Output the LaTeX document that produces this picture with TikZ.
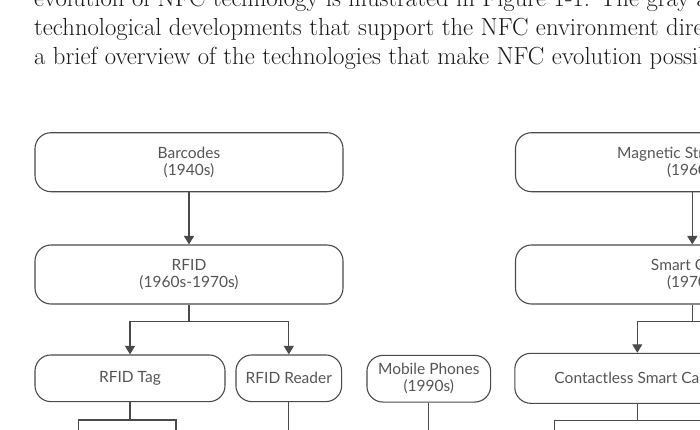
\documentclass[tikz,border=0pt]{standalone}
\usepackage{fontspec}
\usepackage{xcolor}
\usetikzlibrary{arrows.meta, positioning}
\newfontfamily\chartfont{Lato}
\definecolor{LineGray}{HTML}{4A4A4A}
\definecolor{LabelGray}{HTML}{555555}
\definecolor{BodyInk}{HTML}{1A1A1A}
\tikzset{
  >={Triangle[width=10pt,length=8.5pt]},
  % Caselle della cronologia
  tech/.style={draw=LineGray,line width=1.1pt,rounded corners=16pt,fill=white,
    text=LabelGray,font=\chartfont\fontsize{15.5}{17}\selectfont,align=center,
    inner sep=0pt,minimum height=59pt},
  tech low/.style={tech,minimum height=46.7pt},
  % Collegamenti
  link/.style={draw=LineGray,line width=1.1pt},
  link arrow/.style={link,->},
  body/.style={anchor=base west,inner sep=0pt,text=BodyInk,
    font=\fontsize{24.7}{29}\selectfont}
}

\begin{document}
\begin{tikzpicture}[x=1pt,y=-1pt]
    \useasboundingbox (0,0) rectangle (700,429);
    \clip (0,0) rectangle (700,429);
    % testo del paragrafo sopra la figura
    \node[body] (line1) at (34,6) {evolution of NFC technology is illustrated in Figure 1-1. The gray areas};
    \node[body] (line2) at (34,35) {technological developments that support the NFC environment directly.};
    \node[body] (line3) at (34,64) {a brief overview of the technologies that make NFC evolution possible.};
    % ramo RFID
    \node[tech,minimum width=308pt] (barcodes) at (189,162.2) {Barcodes\\(1940s)};
    \node[tech,minimum width=308pt] (rfid) at (189,274.5) {RFID\\(1960s-1970s)};
    \node[tech low,minimum width=190pt] (rfidtag) at (130,378.3) {RFID Tag};
    \node[tech low,minimum width=105.7pt] (rfidreader) at (288.8,378.3) {RFID Reader};
    % telefoni
    \node[tech low,minimum width=123.7pt] (mobile) at (428.8,378.7) {Mobile Phones\\(1990s)};
    % ramo smart card
    \node[tech,minimum width=353.6pt] (magstripe) at (692.3,162.2) {Magnetic Stripe Cards\\(1960s)};
    \node[tech,minimum width=353.6pt] (smartcard) at (692.3,274.5) {Smart Cards\\(1970s)};
    \node[tech,minimum width=245pt,minimum height=50pt] (contactless) at (637.3,378.3) {Contactless Smart Cards};
    % punti di diramazione
    \coordinate (rfidsplit) at (189,321.7);
    \coordinate (smartsplit) at (692.3,321.7);
    \coordinate (smartright) at (720,321.7);
    \coordinate (tagsplit) at (130,420);
    \coordinate (tagleft) at (78.3,440);
    \coordinate (tagright) at (176,440);
    \coordinate (readerdown) at (288.8,440);
    \coordinate (mobiledown) at (428.8,440);
    \coordinate (cardsplit) at (637.3,420.7);
    \coordinate (cardleft) at (554.3,440);
    \coordinate (cardright) at (720,420.7);
    % collegamenti
    \draw[link arrow] (barcodes) -- (rfid);
    \draw[link] (rfid) -- (rfidsplit);
    \draw[link arrow] (rfidsplit) -| (rfidtag);
    \draw[link arrow] (rfidsplit) -| (rfidreader);
    \draw[link arrow] (magstripe) -- (smartcard);
    \draw[link] (smartcard) -- (smartsplit) -- (smartright);
    \draw[link arrow] (smartsplit) -| (contactless);
    \draw[link] (rfidtag) -- (tagsplit);
    \draw[link] (tagsplit) -| (tagleft);
    \draw[link] (tagsplit) -| (tagright);
    \draw[link] (rfidreader) -- (readerdown);
    \draw[link] (mobile) -- (mobiledown);
    \draw[link] (contactless) -- (cardsplit) -- (cardright);
    \draw[link] (cardsplit) -| (cardleft);
\end{tikzpicture}
\end{document}
